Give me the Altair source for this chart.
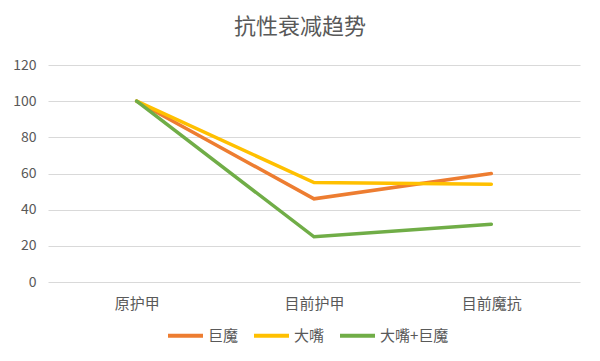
import altair as alt
import pandas as pd

categories = ["原护甲", "目前护甲", "目前魔抗"]
series_names = ["巨魔", "大嘴", "大嘴+巨魔"]
juma = [100, 46, 60]
dazui = [100, 55, 54]
combo = [100, 25, 32]
colors = ["#ED7D31", "#FFC000", "#70AD47"]

rows = []
for name, vals in zip(series_names, [juma, dazui, combo]):
    for c, v in zip(categories, vals):
        rows.append({"类别": c, "系列": name, "值": v})
df = pd.DataFrame(rows)

font = "Noto Sans CJK SC"
gray = "#595959"

chart = alt.Chart(df).mark_line(strokeWidth=3.5, strokeCap="round").encode(
    x=alt.X("类别:N", sort=categories, title=None,
            scale=alt.Scale(paddingOuter=0.5),
            axis=alt.Axis(labelAngle=0, ticks=False, domain=False, grid=False,
                          labelFontSize=15, labelColor=gray, labelFont=font,
                          labelPadding=14)),
    y=alt.Y("值:Q", title=None,
            scale=alt.Scale(domain=[0, 120]),
            axis=alt.Axis(values=[0, 20, 40, 60, 80, 100, 120], ticks=False, domain=False,
                          gridColor="#d9d9d9", gridWidth=1.2,
                          labelFontSize=14, labelColor=gray, labelFont=font,
                          labelPadding=12)),
    color=alt.Color("系列:N", sort=series_names,
                    scale=alt.Scale(domain=series_names, range=colors),
                    legend=alt.Legend(title=None, orient="none", direction="horizontal",
                                      legendX=118, legendY=251,
                                      symbolType="stroke", symbolSize=1225,
                                      symbolStrokeWidth=4, labelFontSize=15,
                                      labelColor=gray, labelFont=font,
                                      columnPadding=7, labelOffset=3, padding=0)),
).properties(
    width=532,
    height=217,
    background="white",
    title=alt.TitleParams("抗性衰减趋势", fontSize=22, font=font, color=gray,
                          fontWeight="normal", anchor="middle", dx=-14, offset=19),
    padding={"left": 40, "top": 57, "right": 12, "bottom": 78},
    autosize=alt.AutoSizeParams(type="none"),
).configure_view(strokeWidth=0)

chart.save("out.html", embed_options={"renderer": "svg", "actions": False})
